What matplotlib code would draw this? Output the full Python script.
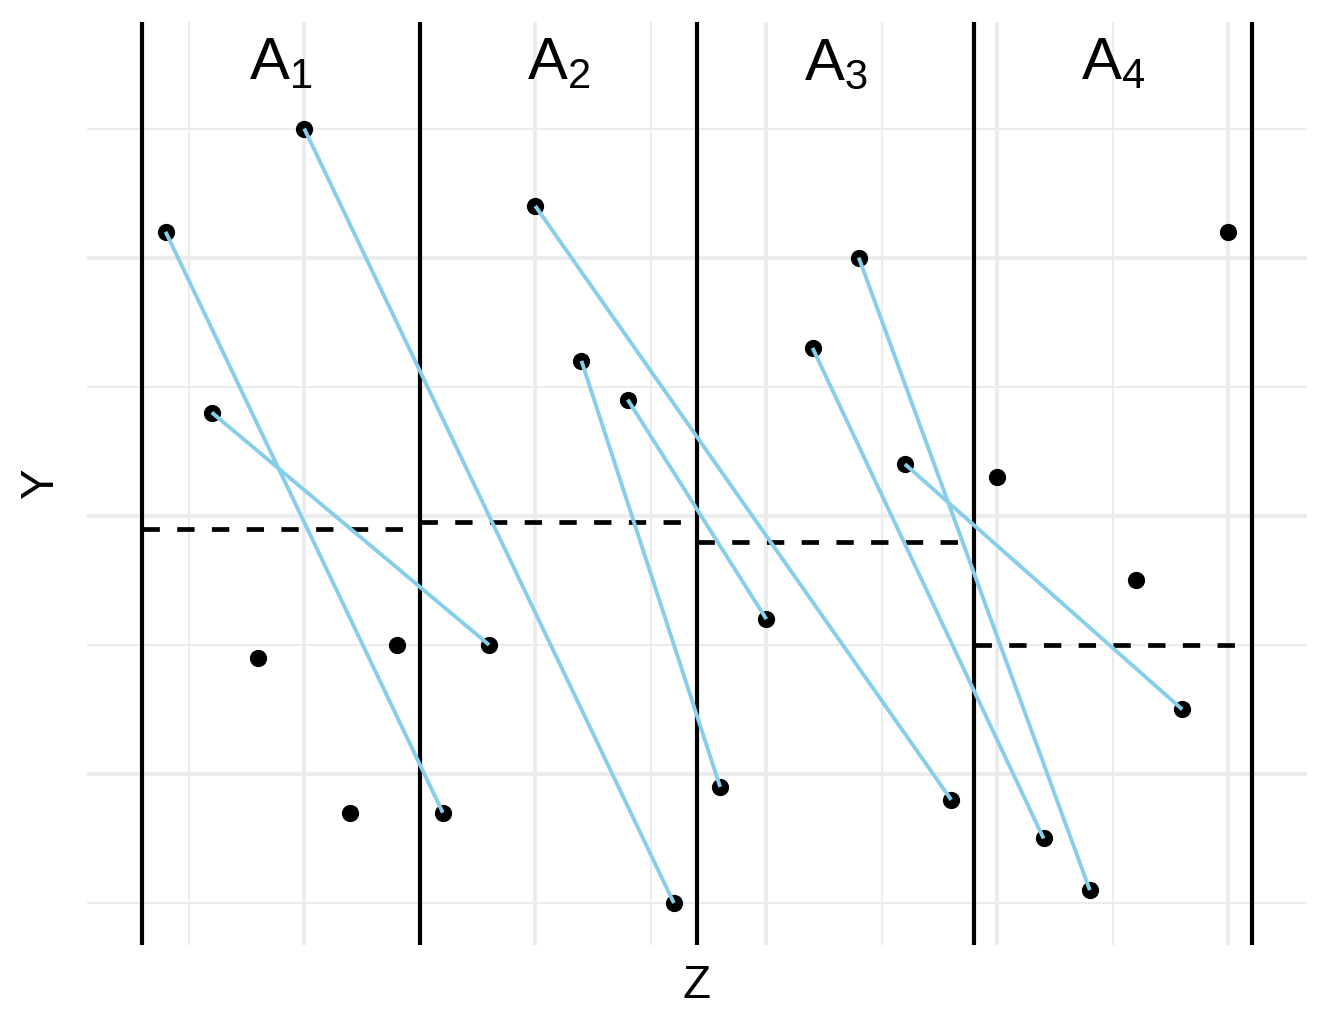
import matplotlib
matplotlib.use("Agg")
import matplotlib.pyplot as plt

plt.rcParams["font.family"] = ["Liberation Sans", "DejaVu Sans"]
plt.rcParams["mathtext.fontset"] = "custom"
plt.rcParams["mathtext.rm"] = "Liberation Sans"
plt.rcParams["mathtext.it"] = "Liberation Sans"
plt.rcParams["lines.scale_dashes"] = False

# point values, x = 1..24
z = list(range(1, 25))
y = [2.2, 0.8, -1.1, 3.0, -2.3, -1.0,
     -2.3, -1.0, 2.4, 1.2, 0.9, -3.0,
     -2.1, -0.8, 1.3, 2.0, 0.4, -2.2,
     0.3, -2.5, -2.9, -0.5, -1.5, 2.2]
# connected pairs (1-based index)
pairs = [(1, 7), (2, 8), (4, 12), (9, 18), (10, 13), (11, 14),
         (15, 20), (16, 21), (17, 23)]
# group boundaries and group mean (dashed)
bounds = [0.5, 6.5, 12.5, 18.5, 24.5]
means = [-0.1, -0.05, -0.2, -1.0]
labels = [r"$\mathrm{A}_1$", r"$\mathrm{A}_2$", r"$\mathrm{A}_3$", r"$\mathrm{A}_4$"]

fig = plt.figure(figsize=(13.29, 10.33), dpi=100)
ax = fig.add_axes([87 / 1329, 1 - 945 / 1033, (1307 - 87) / 1329, (945 - 22) / 1033])

ax.set_xlim(-0.7, 25.7)
ax.set_ylim(-3.325, 3.825)

# grid
for gx in [4, 9, 14, 19, 24]:
    ax.axvline(gx, color="#ebebeb", lw=2.6, zorder=0)
for gx in [1.5, 6.5, 11.5, 16.5, 21.5]:
    ax.axvline(gx, color="#ebebeb", lw=1.3, zorder=0)
for gy in [-2, 0, 2]:
    ax.axhline(gy, color="#ebebeb", lw=2.6, zorder=0)
for gy in [-3, -1, 1, 3]:
    ax.axhline(gy, color="#ebebeb", lw=1.3, zorder=0)

for b in bounds:
    ax.axvline(b, color="black", lw=3.0, zorder=2)

for i in range(4):
    ax.plot([bounds[i], bounds[i + 1]], [means[i], means[i]], color="black",
            lw=3.4, dashes=(12.5, 12.5), zorder=2, solid_capstyle="butt")
    ax.text((bounds[i] + bounds[i + 1]) / 2, 3.5, labels[i], ha="center",
            va="center", fontsize=43)

ax.scatter(z, y, s=130, color="black", zorder=3)

for a, b in pairs:
    ax.plot([z[a - 1], z[b - 1]], [y[a - 1], y[b - 1]], color="skyblue",
            lw=2.8, zorder=4, solid_capstyle="butt")

for s in ax.spines.values():
    s.set_visible(False)
ax.set_xticks([])
ax.set_yticks([])
ax.set_xlabel("Z", fontsize=33, labelpad=14)
ax.set_ylabel("Y", fontsize=33, labelpad=17)

fig.savefig("out.png", dpi=100)
